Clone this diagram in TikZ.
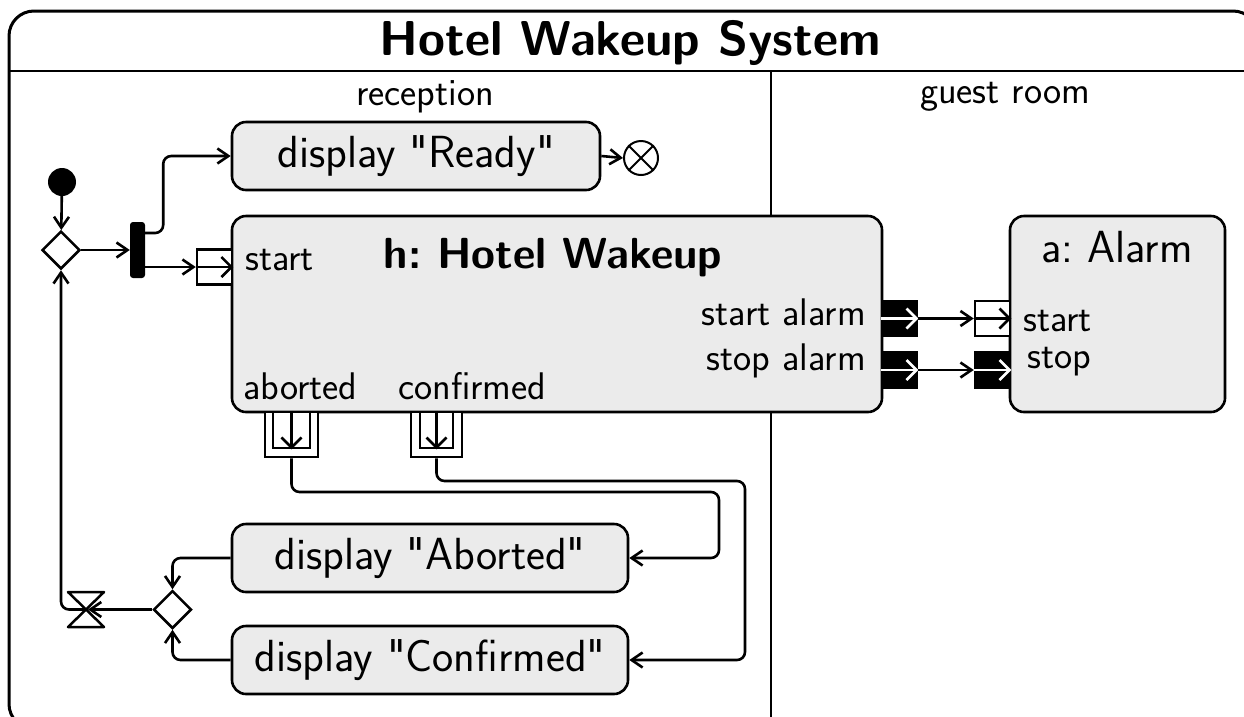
\documentclass[tikz,border=0pt]{standalone}
\usepackage{fontspec}
\usetikzlibrary{arrows.meta,shapes.geometric,calc}
\definecolor{actfill}{HTML}{EBEBEB}
\frenchspacing
\newcommand{\boxfont}{\fontsize{45}{50}\sffamily}
\newcommand{\sq}{{\XeTeXglyph\XeTeXglyphindex "quotedbl"\relax}}
\begin{document}
\begin{tikzpicture}[x=1pt,y=-1pt,
  conn/.style={line width=2.6pt,-{Straight Barb[length=11pt,width=15pt,line width=2.6pt]},rounded corners=8pt},
  action/.style={draw,fill=actfill,line width=2.6pt,rounded corners=14pt,inner sep=0pt},
  lbl/.style={font=\fontsize{38.5}{44}\sffamily,inner sep=0pt},
  big/.style={font=\boxfont,inner sep=0pt},
  pinbox/.style={draw,fill=white,line width=2.5pt,minimum size=35pt,inner sep=0pt},
  blackpin/.style={pinbox,fill=black},
  pinarrow/.style={line width=2.5pt,-{Straight Barb[length=10pt,width=20pt,line width=2.5pt]}},
  dec/.style={draw,diamond,fill=white,line width=2.5pt,minimum size=38pt,inner sep=0pt}
]
\useasboundingbox (0,0) rectangle (1244,716);
\begin{scope}
\clip (0,0) rectangle (1244,716);
% frame
\draw[line width=3pt,rounded corners=25pt] (9,11) rectangle (1258,729);
\draw[line width=2pt] (9,71) -- (1258,71);
\draw[line width=2pt] (771,71) -- (771,730);
\node[font=\fontsize{49}{56}\sffamily\bfseries,inner sep=0pt] (title) at (630,43) {Hotel Wakeup System};
\node[lbl] (recep) at (425,97) {reception};
\node[lbl] (guest) at (1005,97) {guest room};

% actions
\node[action,minimum width=368pt,minimum height=68pt] (ready) at (416,156) {\boxfont display \sq Ready\sq};
\node[draw,circle,line width=2pt,minimum size=34pt,inner sep=0pt] (final) at (641,158) {};
\draw[line width=2pt] (final.north west) -- (final.south east) (final.north east) -- (final.south west);

\node[circle,fill=black,minimum size=28pt,inner sep=0pt] (init) at (62,182) {};
\node[dec] (d1) at (61,250) {};
\node[fill=black,rounded corners=3pt,minimum width=15pt,minimum height=56pt,inner sep=0pt] (fork) at (137.5,250) {};

\node[action,minimum width=650pt,minimum height=196pt] (hw) at (557,314) {};
\node[font=\fontsize{43.5}{48}\sffamily\bfseries,inner sep=0pt] (hwt) at (553,258) {h: Hotel Wakeup};
\node[lbl,anchor=west] (lstart) at (245,260) {start};
\node[lbl,anchor=east] (lsa) at (866,312) {start alarm};
\node[lbl,anchor=east] (lso) at (866,361) {stop alarm};
\node[lbl,anchor=west] (lab) at (243,386) {aborted};
\node[lbl,anchor=west] (lcf) at (398,386) {confirmed};

\node[action,minimum width=215pt,minimum height=196pt] (alarm) at (1117.5,314) {};
\node[big] (alt) at (1117,247) {a: Alarm};
\node[lbl,anchor=west] (alst) at (1023,321) {start};
\node[lbl,anchor=west] (alsp) at (1027,362) {stop};

% pins
\node[pinbox] (spin) at (214.5,267) {};
\draw[pinarrow] (spin.west) -- (spin.east);
\node[blackpin] (sa) at (899.5,318.5) {};
\draw[pinarrow,draw=white] (sa.west) -- (sa.east);
\node[blackpin] (so) at (899.5,370) {};
\draw[pinarrow,draw=white] (so.west) -- (so.east);
\node[pinbox] (as) at (992.5,318.5) {};
\draw[pinarrow] (as.west) -- (as.east);
\node[blackpin] (as2) at (992.5,370) {};
\draw[pinarrow,draw=white] (as2.west) -- (as2.east);

\node[pinbox,minimum width=53pt,minimum height=45pt] (abo) at (291.5,434.5) {};
\node[pinbox,minimum width=37pt,minimum height=36pt] (abi) at (291.5,430) {};
\draw[pinarrow] (abi.north) -- (abi.south);
\node[pinbox,minimum width=51pt,minimum height=45pt] (cfo) at (436.5,434.5) {};
\node[pinbox,minimum width=33pt,minimum height=36pt] (cfi) at (436.5,430) {};
\draw[pinarrow] (cfi.north) -- (cfi.south);

\node[action,minimum width=396pt,minimum height=68pt] (dab) at (430,558) {\boxfont display \sq Aborted\sq};
\node[action,minimum width=396pt,minimum height=68pt] (dcf) at (430,660) {\boxfont display \sq Confirmed\sq};
\node[dec] (merge) at (172.5,609.5) {};
\coordinate (hg) at (86,609.5);
\draw[line width=2.5pt,line join=round] (68,592) -- (104,592) -- (hg) -- cycle;
\draw[line width=2.5pt,line join=round] (68,627) -- (104,627) -- (hg) -- cycle;

% connectors
\draw[conn] (init) -- (d1);
\draw[conn] (d1.east) -- (fork.west);
\draw[conn] ([yshift=17pt]fork.east) -- ++(18,0) |- (ready.west);
\draw[conn] ([yshift=-17pt]fork.east) -- (spin.west);
\draw[conn] (ready.east) -- (final.west);
\draw[conn] (sa.east) -- (as.west);
\draw[conn] (so.east) -- (as2.west);
\draw[conn] (abo.south) |- (719,492) |- (dab.east);
\draw[conn] (cfo.south) |- (745,481) |- (dcf.east);
\draw[conn] (dab.west) -| (merge.north);
\draw[conn] (dcf.west) -| (merge.south);
\draw[conn] (merge.west) -- ([xshift=2pt]hg);
\draw[conn] (hg) -| (d1.south);
\end{scope}
\end{tikzpicture}
\end{document}
